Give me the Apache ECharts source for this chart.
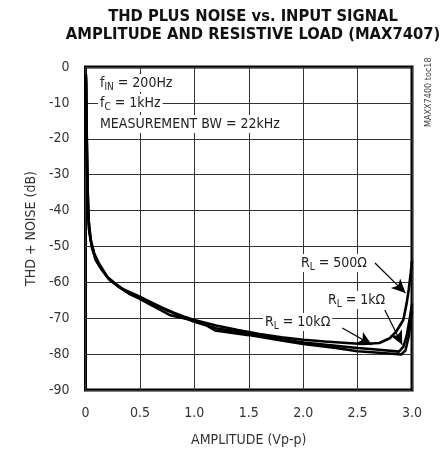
<!DOCTYPE html>
<html><head><meta charset="utf-8">
<script src="https://cdn.jsdelivr.net/npm/echarts@6/dist/echarts.min.js"></script>
<style>html,body{margin:0;padding:0;background:#fff}#c{width:443px;height:452px}</style>
</head><body><div id="c"></div>
<script>
const FONT = "'Liberation Sans Narrow','DejaVu Sans Condensed',sans-serif";
const titleLines = ['THD PLUS NOISE vs. INPUT SIGNAL', 'AMPLITUDE AND RESISTIVE LOAD (MAX7407)'];
const xTickLabels = ['0','0.5','1.0','1.5','2.0','2.5','3.0'];
const yTickLabels = ['-90','-80','-70','-60','-50','-40','-30','-20','-10','0'];
const xName = 'AMPLITUDE (Vp-p)';
const yName = 'THD + NOISE (dB)';

const r500 = [[0.005,-2],[0.01,-15],[0.015,-27],[0.022,-37],[0.03,-43],[0.05,-48.5],[0.08,-52],[0.12,-54.5],[0.2,-58.5],[0.3,-61.2],[0.4,-63],[0.5,-64.2],[0.6,-65.5],[0.7,-67],[0.8,-68.3],[0.9,-69.5],[1.0,-70.5],[1.2,-72],[1.4,-73.3],[1.6,-74.4],[1.8,-75.3],[2.0,-76],[2.2,-76.5],[2.4,-76.9],[2.55,-77.2],[2.7,-76.9],[2.8,-75.5],[2.86,-73.5],[2.92,-70.5],[2.95,-66],[2.97,-62],[2.99,-57],[3.0,-54]];
const r1k = [[0.005,-4],[0.01,-18],[0.016,-30],[0.024,-40],[0.035,-46],[0.06,-50.5],[0.1,-54],[0.15,-56.5],[0.22,-59.3],[0.35,-62],[0.5,-64],[0.67,-66.8],[0.8,-68.5],[0.9,-69.8],[1.0,-71],[1.2,-72.8],[1.5,-74.3],[1.8,-75.8],[2.0,-76.8],[2.3,-77.7],[2.5,-78.3],[2.7,-78.8],[2.88,-79.3],[2.92,-78],[2.95,-75],[2.98,-70],[3.0,-66]];
const r10k = [[0.005,-3],[0.01,-17],[0.016,-29],[0.024,-39],[0.032,-45],[0.05,-48.5],[0.09,-53.5],[0.14,-56],[0.2,-58.5],[0.3,-61],[0.4,-63.2],[0.5,-64.6],[0.6,-66.3],[0.7,-67.9],[0.78,-69.2],[0.9,-70],[1.0,-70.6],[1.1,-71.8],[1.19,-73.4],[1.5,-74.7],[1.8,-76.2],[2.0,-77.2],[2.3,-78.3],[2.5,-79.2],[2.7,-79.6],[2.9,-80.1],[2.94,-79],[2.97,-75],[2.99,-70],[3.0,-68]];

const arrow500 = [[2.66,-54.6],[2.94,-63.0]];
const arrow1k = [[2.75,-67.7],[2.91,-77.4]];
const arrow10k = [[2.36,-72.7],[2.63,-77.4]];

const chart = echarts.init(document.getElementById('c'));
function mkSeries(name, data, arrow) {
  return {
    name, type: 'line', data, showSymbol: false, smooth: false,
    lineStyle: { color: '#000', width: 2.6 }, z: 3,
    markLine: {
      silent: true, symbol: ['none','arrow'], symbolSize: [10, 14],
      lineStyle: { color: '#000', width: 1.2, type: 'solid' },
      label: { show: false },
      data: [[{ coord: arrow[0] }, { coord: arrow[1] }]]
    }
  };
}
function richText(parts, x, y) {
  return {
    type: 'text', x, y, z: 10,
    style: {
      text: parts, font: '14px ' + FONT, fill: '#222',
      backgroundColor: '#fff', padding: [0, 2, 0, 2],
      rich: {
        m: { fontFamily: FONT, fontSize: 14, lineHeight: 18, color: '#222' },
        s: { fontFamily: FONT, fontSize: 10, lineHeight: 10, verticalAlign: 'bottom', color: '#222' }
      }
    }
  };
}
chart.setOption({
  animation: false,
  title: {
    text: titleLines.join('\n'), left: 248, top: 3, textAlign: 'center',
    textStyle: { fontFamily: FONT, fontWeight: 'bold', fontSize: 16.4, lineHeight: 18, color: '#111' }
  },
  grid: { left: 85.5, right: 31, top: 67, bottom: 62, show: true, borderColor: '#000', borderWidth: 3, backgroundColor: 'transparent' },
  xAxis: {
    type: 'value', min: 0, max: 3, interval: 0.5,
    name: xName, nameLocation: 'middle', nameGap: 43,
    nameTextStyle: { fontFamily: FONT, fontSize: 14, color: '#333' },
    axisLine: { show: false }, axisTick: { show: false },
    axisLabel: { fontFamily: FONT, fontSize: 14, color: '#333', margin: 16,
      formatter: (v) => xTickLabels[Math.round(v / 0.5)] },
    splitLine: { show: true, lineStyle: { color: '#333', width: 1 } }
  },
  yAxis: {
    type: 'value', min: -90, max: 0, interval: 10,
    name: yName, nameLocation: 'middle', nameGap: 47, nameRotate: 90,
    nameTextStyle: { fontFamily: FONT, fontSize: 14, color: '#333' },
    axisLine: { show: false }, axisTick: { show: false },
    axisLabel: { fontFamily: FONT, fontSize: 14, color: '#333', margin: 16,
      formatter: (v) => yTickLabels[Math.round((v + 90) / 10)] },
    splitLine: { show: true, lineStyle: { color: '#333', width: 1 } }
  },
  series: [mkSeries('500', r500, arrow500), mkSeries('1k', r1k, arrow1k), mkSeries('10k', r10k, arrow10k)],
  graphic: [
    richText('{m|f}{s|IN}{m| = 200Hz}', 98, 74),
    richText('{m|f}{s|C}{m| = 1kHz}', 98, 94),
    richText('{m|MEASUREMENT BW = 22kHz}', 98, 115),
    richText('{m|R}{s|L}{m| = 500Ω}', 299, 254),
    richText('{m|R}{s|L}{m| = 1kΩ}', 326, 291),
    richText('{m|R}{s|L}{m| = 10kΩ}', 263, 313),
    {
      type: 'text', x: 424, y: 127, rotation: Math.PI / 2, z: 10,
      style: { text: 'MAXX7400 toc18', font: '9px ' + FONT, fill: '#444' }
    }
  ]
});
</script></body></html>
